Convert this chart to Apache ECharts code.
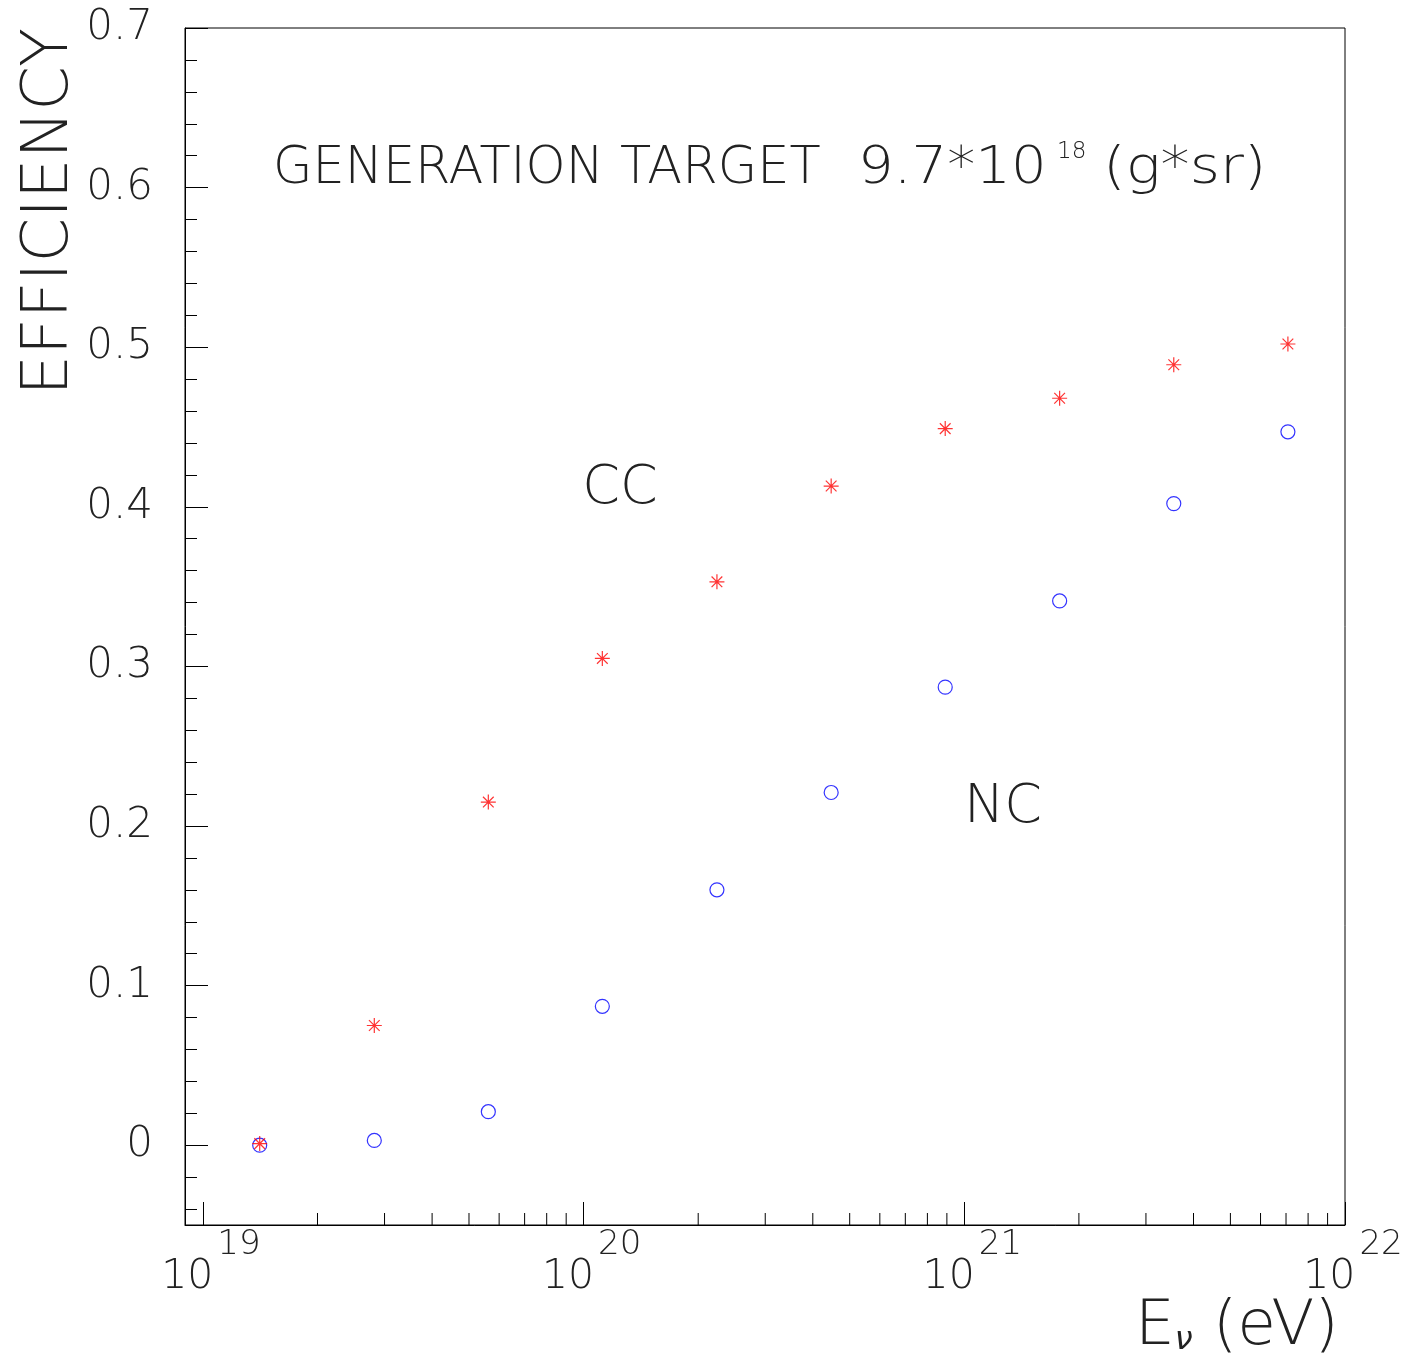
<html>
<head>
<meta charset="utf-8">
<script src="https://cdn.jsdelivr.net/npm/echarts@6/dist/echarts.min.js"></script>
<style>
  html, body, #main { width: 100%; height: 100%; margin: 0; background: #fff; }
</style>
</head>
<body>
<div id="main"></div>
<script type="text/javascript">
// neutrino energy (eV), one value per point
var energy = [1.41e19, 2.82e19, 5.62e19, 1.12e20, 2.24e20, 4.47e20, 8.91e20, 1.78e21, 3.55e21, 7.08e21];
// charged current efficiency (red stars)
var ccEff = [0.001, 0.075, 0.215, 0.305, 0.353, 0.413, 0.449, 0.468, 0.489, 0.502];
// neutral current efficiency (blue circles)
var ncEff = [0.000, 0.003, 0.021, 0.087, 0.160, 0.221, 0.287, 0.341, 0.402, 0.447];

// log axis range and minor ticks (2..9 x 10^n)
var xMin = Math.pow(10, 18.953);
var xMax = 1e22;
var mantissas = [2, 3, 4, 5, 6, 7, 8, 9];
var decades = [1e19, 1e20, 1e21];

var minorTicks = [];
decades.forEach(function (d) {
    mantissas.forEach(function (m) { minorTicks.push([m * d, -0.05]); });
});

function pairs(xs, ys) {
    return xs.map(function (x, i) { return [x, ys[i]]; });
}

var FONT = 'DejaVu Sans';
var FW = 200;
var INK = '#222';
var STAR = 'path://M0,-7L0,7M-7,0L7,0M-5,-5L5,5M-5,5L5,-5';

function txt(x, y, s, size, align, extra) {
    var el = {
        type: 'text', x: x, y: y,
        style: { text: s, fill: INK, fontFamily: FONT, fontWeight: FW, fontSize: size,
                 align: align, verticalAlign: 'middle', textAlign: align, textVerticalAlign: 'middle' }
    };
    for (var k in extra) el[k] = extra[k];
    return el;
}

var chart = echarts.init(document.getElementById('main'));

var option = {
    backgroundColor: '#fff',
    animation: false,
    grid: {
        left: 185, top: 28, right: 69, bottom: 137,
        show: true, borderColor: '#000', borderWidth: 1
    },
    xAxis: {
        type: 'log',
        logBase: 10,
        min: xMin,
        max: xMax,
        splitLine: { show: false },
        axisLine: { show: true, onZero: false, lineStyle: { color: '#000', width: 1 } },
        axisTick: { show: true, inside: true, length: 23, lineStyle: { color: '#000' } },
        minorTick: { show: false },
        axisLabel: {
            margin: 3,
            padding: [0, 0, 0, 16],
            formatter: function (v) {
                var e = Math.log10(v);
                var r = Math.round(e);
                if (Math.abs(e - r) > 1e-6) return '';
                return '{b|10}{s|' + r + '}';
            },
            rich: {
                b: { fontFamily: FONT, fontWeight: FW, fontSize: 41, color: INK, lineHeight: 70, verticalAlign: 'bottom' },
                s: { fontFamily: FONT, fontWeight: FW, fontSize: 34, color: INK, lineHeight: 28, verticalAlign: 'top', padding: [0, 0, 0, 4] }
            }
        }
    },
    yAxis: {
        type: 'value',
        min: -0.05,
        max: 0.7,
        splitNumber: 7,
        splitLine: { show: false },
        axisLine: { show: true, onZero: false, lineStyle: { color: '#000', width: 1 } },
        axisTick: { show: true, inside: true, length: 23, lineStyle: { color: '#000' } },
        minorTick: { show: true, splitNumber: 5, length: 12, lineStyle: { color: '#000' } },
        axisLabel: {
            margin: 32,
            fontFamily: FONT,
            fontWeight: FW,
            fontSize: 42,
            color: INK,
            formatter: function (v) {
                if (v < -1e-9) return '';
                if (Math.abs(v) < 1e-9) return '0';
                return v.toFixed(1);
            }
        }
    },
    series: [
        {
            name: 'NC',
            type: 'scatter',
            data: pairs(energy, ncEff),
            symbol: 'circle',
            symbolSize: 14,
            itemStyle: { color: 'none', borderColor: '#0000ff', borderWidth: 1.2 },
            z: 3
        },
        {
            name: 'CC',
            type: 'scatter',
            data: pairs(energy, ccEff),
            symbol: STAR,
            symbolSize: 15,
            itemStyle: { color: 'none', borderColor: '#ff0000', borderWidth: 1.2 },
            z: 4
        },
        {
            // minor ticks of the log axis
            type: 'custom',
            silent: true,
            data: minorTicks,
            renderItem: function (params, api) {
                var p = api.coord([api.value(0), api.value(1)]);
                return {
                    type: 'line',
                    shape: { x1: p[0], y1: p[1], x2: p[0], y2: p[1] - 12 },
                    style: { stroke: '#000', lineWidth: 1 }
                };
            },
            z: 2
        }
    ],
    graphic: [
        txt(50, 28, 'EFFICIENCY', 64, 'right', { rotation: Math.PI / 2 }),
        txt(273, 170, 'GENERATION TARGET', 51, 'left', {}),
        txt(858, 170, '9.7*10', 51, 'left', { scaleX: 1.1 }),
        txt(1057, 152, '18', 23, 'left', {}),
        txt(1103, 170, '(g*sr)', 51, 'left', { scaleX: 1.14 }),
        txt(620, 489, 'CC', 54, 'center', {}),
        txt(1003, 808, 'NC', 54, 'center', {}),
        {
            type: 'text', x: 1135, y: 1324,
            style: {
                text: '{e|E}{n|ν}{e| (eV)}',
                align: 'left', verticalAlign: 'middle', textAlign: 'left', textVerticalAlign: 'middle',
                rich: {
                    e: { fontFamily: FONT, fontWeight: FW, fontSize: 63, fill: INK, color: INK, lineHeight: 70, verticalAlign: 'bottom' },
                    n: { fontFamily: FONT, fontWeight: FW, fontStyle: 'italic', fontSize: 32, fill: INK, color: INK, lineHeight: 30, verticalAlign: 'bottom', padding: [0, 0, 2, 0] }
                }
            }
        }
    ]
};

chart.setOption(option);
window.onresize = chart.resize;
</script>
</body>
</html>
